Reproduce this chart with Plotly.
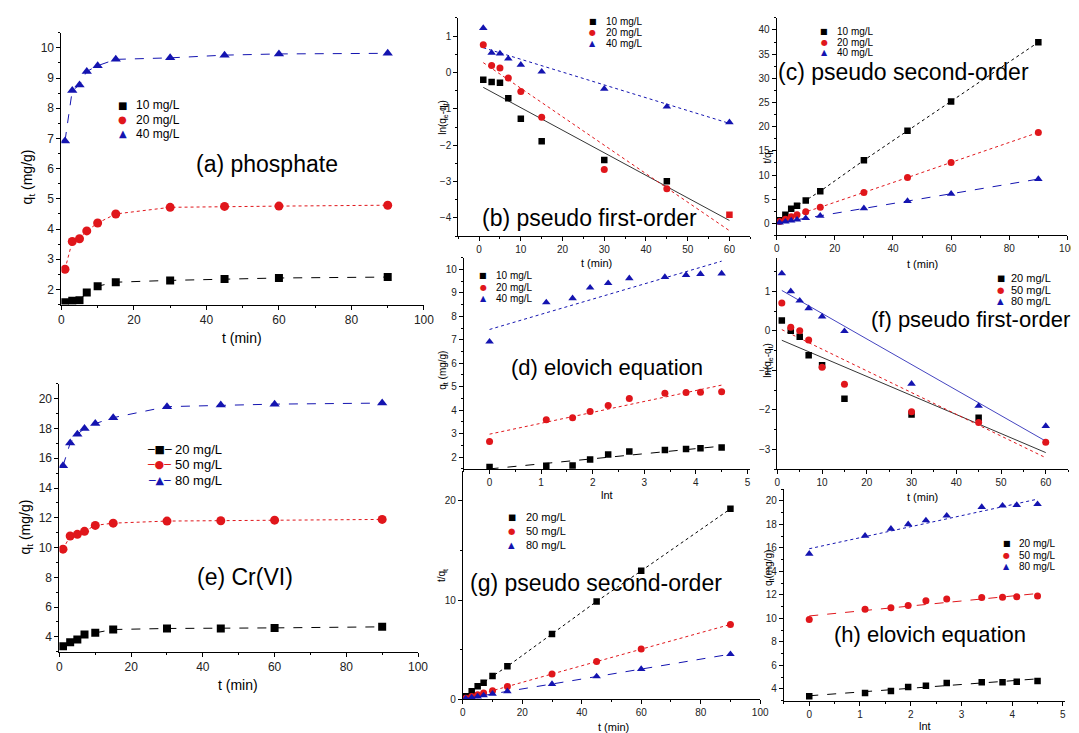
import plotly.graph_objects as go

W, H = 1079, 733
FONT = "Liberation Sans, Arial, sans-serif"
SYMFONT = "DejaVu Sans"
BLACK, RED, BLUE = "#000000", "#e0161b", "#1414b0"

# ---------------- data ----------------
t = [1, 3, 5, 7, 10, 15, 30, 45, 60, 90]
lnt = [0, 1.10, 1.61, 1.95, 2.30, 2.71, 3.40, 3.81, 4.09, 4.50]
t_first = [1, 3, 5, 7, 10, 15, 30, 45, 60]

# (a) phosphate q_t (mg/g)
qa_10 = [1.58, 1.63, 1.64, 1.90, 2.11, 2.24, 2.30, 2.35, 2.38, 2.41]
qa_20 = [2.67, 3.59, 3.68, 3.94, 4.20, 4.50, 4.72, 4.75, 4.76, 4.79]
qa_40 = [6.92, 8.59, 8.77, 9.22, 9.41, 9.62, 9.67, 9.76, 9.80, 9.82]

# (e) Cr(VI) q_t (mg/g)
qe_20 = [3.36, 3.64, 3.82, 4.16, 4.27, 4.49, 4.56, 4.56, 4.60, 4.67]
qe_50 = [9.89, 10.78, 10.89, 11.09, 11.49, 11.64, 11.78, 11.80, 11.84, 11.89]
qe_80 = [15.49, 17.02, 17.62, 18.00, 18.33, 18.73, 19.47, 19.58, 19.64, 19.71]

# (b) phosphate pseudo first-order ln(qe-qt)
lb_10 = [-0.20, -0.26, -0.28, -0.71, -1.27, -1.89, -2.41, -2.99, -3.91]
lb_20 = [0.76, 0.19, 0.12, -0.15, -0.52, -1.23, -2.67, -3.20]
lb_40 = [1.22, 0.54, 0.52, 0.38, 0.21, 0.02, -0.45, -0.94, -1.37]
fit_t = [1, 60]
fb_10 = [-0.41, -4.07]
fb_20 = [0.27, -4.35]
fb_40 = [0.68, -1.40]

# (c) phosphate pseudo second-order t/qt
tc_10 = [0.63, 1.80, 3.02, 3.63, 4.71, 6.65, 13.04, 19.15, 25.20, 37.47]
tc_20 = [0.37, 0.84, 1.36, 1.78, 2.38, 3.33, 6.36, 9.47, 12.60, 18.80]
tc_40 = [0.14, 0.35, 0.57, 0.76, 1.06, 1.56, 3.10, 4.61, 6.12, 9.16]

# (d) phosphate Elovich fit lines (lnt 0 -> 4.5)
fit_lnt = [0, 4.5]
fd_10 = [1.50, 2.47]
fd_20 = [2.98, 5.07]
fd_40 = [7.44, 10.35]

# (f) Cr(VI) pseudo first-order ln(qe-qt)
lf_20 = [0.26, 0.00, -0.15, -0.62, -0.87, -1.72, -2.12, -2.20]
lf_50 = [0.70, 0.09, 0.00, -0.23, -0.92, -1.35, -2.05, -2.32, -2.82]
lf_80 = [1.45, 1.00, 0.76, 0.57, 0.36, -0.01, -1.34, -1.90, -2.41]
ff_20 = [-0.24, -3.08]
ff_50 = [0.03, -3.21]
ff_80 = [1.02, -2.79]

# (g) Cr(VI) pseudo second-order t/qt
tg_20 = [0.30, 0.82, 1.31, 1.68, 2.34, 3.32, 6.58, 9.87, 12.95, 19.20]
tg_50 = [0.10, 0.28, 0.46, 0.63, 0.87, 1.29, 2.55, 3.81, 5.07, 7.55]
tg_80 = [0.07, 0.18, 0.28, 0.39, 0.55, 0.80, 1.54, 2.30, 3.05, 4.55]

# (h) Cr(VI) Elovich fit lines
fh_20 = [3.41, 4.85]
fh_50 = [10.20, 12.11]
fh_80 = [15.92, 20.14]

lab_p = ["10 mg/L", "20 mg/L", "40 mg/L"]
lab_c = ["20 mg/L", "50 mg/L", "80 mg/L"]

# ---------------- layout helpers ----------------
def dom_x(a, b):
    return [a / W, b / W]

def dom_y(top, bottom):
    return [1 - bottom / H, 1 - top / H]

# key, x px, y px (top,bottom), xrange, xdtick, xminor, yrange, ydtick, yminor, tickfont
axes_spec = [
    ("a", (51, 418), (25, 299), [0, 100], 20, 10, [1.5, 10.5], 1, 0.5, 12),
    ("e", (49, 412), (379, 649), [0, 100], 20, 10, [3, 21], 2, 1, 12),
    ("b", (452.7, 748.3), (10, 230), [-5, 65], 10, 5, [-4.5, 1.5], 1, 0.5, 10),
    ("d", (458.3, 748), (251.7, 464.7), [-0.5, 5.05], 1, 0.5, [1.5, 10.5], 1, 0.5, 10),
    ("g", (457.3, 758.3), (467, 697), [0, 100], 20, 10, [0, 23], 10, 5, 10),
    ("c", (775, 1069.3), (10, 229.3), [0, 100], 20, 10, [-2.5, 42.5], 5, 2.5, 10),
    ("f", (775.7, 1070), (251.7, 465), [0, 65], 10, 5, [-3.5, 1.85], 1, 0.5, 10),
    ("h", (782.3, 1067.3), (485, 698.3), [-0.5, 5.05], 1, 0.5, [3, 21], 2, 1, 10),
]
idx = {}
fig = go.Figure()
layout_axes = {}
for i, (key, xp, yp, xr, xd, xm, yr, yd, ym, tf) in enumerate(axes_spec, start=1):
    idx[key] = i
    sfx = "" if i == 1 else str(i)
    common = dict(showline=True, linecolor="black", linewidth=1, ticks="outside",
                  ticklen=4, tickwidth=1, tickcolor="black", showgrid=False,
                  zeroline=False, tick0=0,
                  tickfont=dict(size=tf, color="#222", family=FONT))
    layout_axes["xaxis" + sfx] = dict(domain=dom_x(*xp), range=xr, dtick=xd,
                                      anchor="y" + sfx,
                                      minor=dict(ticks="outside", ticklen=2, dtick=xm,
                                                 tickcolor="black", showgrid=False),
                                      **common)
    layout_axes["yaxis" + sfx] = dict(domain=dom_y(*yp), range=yr, dtick=yd,
                                      anchor="x" + sfx,
                                      minor=dict(ticks="outside", ticklen=2, dtick=ym,
                                                 tickcolor="black", showgrid=False),
                                      **common)

def add(key, x, y, color, symbol=None, mode="markers", dash="solid", size=7, lw=1, mcolor=None):
    i = idx[key]
    sfx = "" if i == 1 else str(i)
    tr = dict(x=x, y=y, mode=mode, xaxis="x" + sfx, yaxis="y" + sfx, showlegend=False,
              hoverinfo="skip")
    if "lines" in mode:
        tr["line"] = dict(color=color, width=lw, dash=dash)
    if "markers" in mode:
        tr["marker"] = dict(color=mcolor if mcolor is not None else color,
                            symbol=symbol, size=size, line=dict(width=0))
    fig.add_trace(go.Scatter(**tr))

SQ_L, CI_L, TR_L = 8, 9, 9
SQ_M, CI_M, TR_M = 6.5, 7, 7.5

# (a)
add("a", t, qa_10, BLACK, "square", "lines+markers", "dash", SQ_L)
add("a", t, qa_20, RED, "circle", "lines+markers", "dot", CI_L)
add("a", t, qa_40, BLUE, "triangle-up", "lines+markers", "dash", TR_L)
# (e)
add("e", t, qe_20, BLACK, "square", "lines+markers", "dash", SQ_L)
add("e", t, qe_50, RED, "circle", "lines+markers", "dot", CI_L)
add("e", t, qe_80, BLUE, "triangle-up", "lines+markers", "dash", TR_L)
# (b)
add("b", fit_t, fb_10, BLACK, mode="lines", dash="solid", lw=0.8)
add("b", fit_t, fb_20, RED, mode="lines", dash="dot", lw=1)
add("b", fit_t, fb_40, BLUE, mode="lines", dash="dot", lw=1)
add("b", t_first, lb_10, BLACK, "square", size=SQ_M, mcolor=[BLACK] * 8 + [RED])
add("b", t_first[:8], lb_20, RED, "circle", size=CI_M)
add("b", t_first, lb_40, BLUE, "triangle-up", size=TR_M)
# (c)
add("c", t, tc_10, BLACK, "square", "lines+markers", "dot", SQ_M)
add("c", t, tc_20, RED, "circle", "lines+markers", "dot", CI_M)
add("c", t, tc_40, BLUE, "triangle-up", "lines+markers", "dash", TR_M)
# (d)
add("d", fit_lnt, fd_10, BLACK, mode="lines", dash="dash", lw=1)
add("d", fit_lnt, fd_20, RED, mode="lines", dash="dot", lw=1)
add("d", fit_lnt, fd_40, BLUE, mode="lines", dash="dot", lw=1)
add("d", lnt, qa_10, BLACK, "square", size=SQ_M)
add("d", lnt, qa_20, RED, "circle", size=CI_M)
add("d", lnt, qa_40, BLUE, "triangle-up", size=TR_M)
# (f)
add("f", fit_t, ff_20, BLACK, mode="lines", dash="solid", lw=0.8)
add("f", fit_t, ff_50, RED, mode="lines", dash="dot", lw=1)
add("f", fit_t, ff_80, BLUE, mode="lines", dash="solid", lw=0.8)
add("f", t_first[:8], lf_20, BLACK, "square", size=SQ_M)
add("f", t_first, lf_50, RED, "circle", size=CI_M)
add("f", t_first, lf_80, BLUE, "triangle-up", size=TR_M)
# (g)
add("g", t, tg_20, BLACK, "square", "lines+markers", "dot", SQ_M)
add("g", t, tg_50, RED, "circle", "lines+markers", "dot", CI_M)
add("g", t, tg_80, BLUE, "triangle-up", "lines+markers", "dash", TR_M)
# (h)
add("h", fit_lnt, fh_20, BLACK, mode="lines", dash="dash", lw=1)
add("h", fit_lnt, fh_50, RED, mode="lines", dash="dash", lw=1)
add("h", fit_lnt, fh_80, BLUE, mode="lines", dash="dot", lw=1)
add("h", lnt, qe_20, BLACK, "square", size=SQ_M)
add("h", lnt, qe_50, RED, "circle", size=CI_M)
add("h", lnt, qe_80, BLUE, "triangle-up", size=TR_M)

# ---------------- annotations ----------------
anns = []

def txt(x, y, s, size, angle=0, xanchor="center", color="black", family=FONT):
    anns.append(dict(x=x / W, y=1 - y / H, xref="paper", yref="paper", text=s,
                     showarrow=False, textangle=angle, xanchor=xanchor, yanchor="middle",
                     font=dict(size=size, color=color, family=family)))

# panel titles
txt(259, 157, "(a) phosphate", 23)
txt(237, 574, "(e) Cr(VI)", 23)
txt(586, 212, "(b) pseudo first-order", 23)
txt(903, 65, "(c) pseudo second-order", 23)
txt(603, 362, "(d) elovich equation", 22)
txt(971, 314, "(f) pseudo first-order", 22)
txt(592, 580, "(g) pseudo second-order", 23)
txt(930, 632, "(h) elovich equation", 22)

# axis titles
txt(234, 333, "t (min)", 14)
txt(17, 170, "q<sub>t</sub> (mg/g)", 14, angle=-90)
txt(230, 683, "t (min)", 14)
txt(15, 523, "q<sub>t</sub> (mg/g)", 14, angle=-90)
txt(593, 257, "t (min)", 11)
txt(437, 110, "ln(q<sub>e</sub>-q<sub>t</sub>)", 10, angle=-90)
txt(603, 491, "lnt", 11)
txt(437, 365, "q<sub>t</sub> (mg/g)", 10, angle=-90)
txt(610, 725, "t (min)", 11)
txt(437, 572, "t/q<sub>t</sub>", 10, angle=-90)
txt(923, 258, "t (min)", 11)
txt(766, 150, "t/q<sub>t</sub>", 10, angle=-90)
txt(923, 493, "t (min)", 11)
txt(766, 355, "ln(q<sub>e</sub>-q<sub>t</sub>)", 10, angle=-90)
txt(925, 724, "lnt", 11)
txt(768, 565, "q<sub>t</sub>(mg/g)", 10, angle=-90)

# legends
SYM = ["\u25A0", "\u25CF", "\u25B2"]
COLS = [BLACK, RED, BLUE]

def legend(mx, tx, ys, labels, size, symsize, line=False):
    for y, lab, c, s in zip(ys, labels, COLS, SYM):
        txt(mx, y, ("\u2500" + s + "\u2500") if line else s, symsize, color=c, family=SYMFONT)
        txt(tx, y, lab, size, xanchor="left")

legend(113, 124, [98.3, 112.7, 127], lab_p, 12, 10)
legend(150, 164, [445, 460.7, 476], lab_c, 13, 11, line=True)
legend(589, 600, [14, 24.3, 35.7], lab_p, 10, 8)
legend(823, 834, [23.3, 34.3, 45.3], lab_p, 10, 8)
legend(478, 489, [269.3, 281.7, 293.3], lab_p, 10, 8)
legend(1002, 1010, [272.7, 284, 295.7], lab_c, 11, 8.5)
legend(507, 519, [513, 527.7, 541], lab_c, 11, 8.5)
legend(1008, 1018, [540, 551.7, 563], lab_c, 10, 8)

fig.update_layout(width=W, height=H, margin=dict(l=0, r=0, t=0, b=0),
                  paper_bgcolor="white", plot_bgcolor="white",
                  font=dict(family=FONT, color="black"),
                  annotations=anns, **layout_axes)

fig.write_html("out.html")
